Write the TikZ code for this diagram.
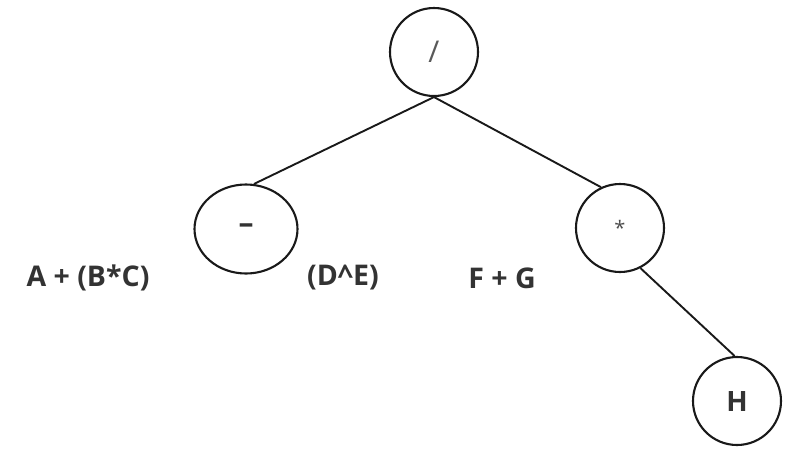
\documentclass[tikz,border=0pt]{standalone}
\usepackage{fontspec}
\setmainfont{Open Sans}
\usetikzlibrary{shapes.geometric}
\begin{document}
\begin{tikzpicture}[x=1pt,y=-1pt,
  nd/.style={draw=black!90,line width=2.1pt,circle,minimum size=88pt,inner sep=0pt},
  ndell/.style={draw=black!90,line width=2.1pt,ellipse,minimum width=103pt,minimum height=89pt,inner sep=0pt},
  edge/.style={draw=black!90,line width=1.9pt},
  lbl/.style={font=\fontsize{28.5}{32}\selectfont\bfseries,text=black!80,inner sep=0pt}]
\useasboundingbox (0,0) rectangle (795,448);
\node[nd,font=\fontsize{30}{32}\selectfont,text=black!65] (root) at (434,52) {/};
\node[ndell,font=\fontsize{30}{32}\selectfont\bfseries,text=black!80] (minus) at (246,229) {–};
\node[nd,font=\fontsize{20}{22}\selectfont,text=black!70] (star) at (620,228) {*};
\node[nd,font=\fontsize{28}{30}\selectfont\bfseries,text=black!80] (h) at (737,401) {H};
\draw[edge] (root.south) -- (minus.80);
\draw[edge] (root.south) -- (star.115);
\draw[edge] (star.-63) -- (h.93);
\node[lbl] (t1) at (88,278) {A + (B*C)};
\node[lbl] (t2) at (343,278) {(D\^{}E)};
\node[lbl] (t3) at (502,278) {F + G};
\end{tikzpicture}
\end{document}
